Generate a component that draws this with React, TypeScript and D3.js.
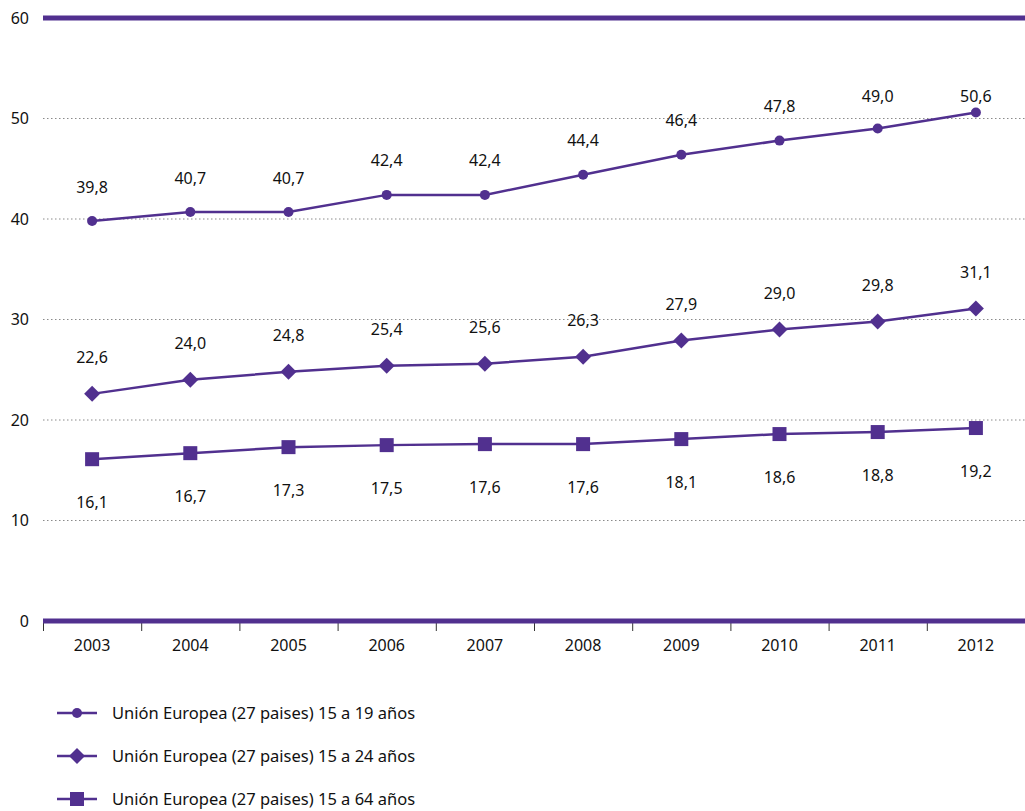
import React from "react";
import * as d3 from "d3";

const years = ["2003", "2004", "2005", "2006", "2007", "2008", "2009", "2010", "2011", "2012"];
const s15to19 = [39.8, 40.7, 40.7, 42.4, 42.4, 44.4, 46.4, 47.8, 49.0, 50.6];
const s15to24 = [22.6, 24.0, 24.8, 25.4, 25.6, 26.3, 27.9, 29.0, 29.8, 31.1];
const s15to64 = [16.1, 16.7, 17.3, 17.5, 17.6, 17.6, 18.1, 18.6, 18.8, 19.2];
const yTicks = [0, 10, 20, 30, 40, 50, 60];
const seriesNames = [
  "Unión Europea (27 paises) 15 a 19 años",
  "Unión Europea (27 paises) 15 a 24 años",
  "Unión Europea (27 paises) 15 a 64 años",
];

const COLOR = "#51308f";
const FONT = "'Noto Sans', 'Open Sans', sans-serif";
const FS = 16;

const W = 1025;
const H = 811;
const M = { left: 43, right: 0, top: 18, bottom: 190 };

function Marker({ kind, x, y }: { kind: string; x: number; y: number }) {
  if (kind === "circle") return <circle cx={x} cy={y} r={5} fill={COLOR} />;
  if (kind === "diamond")
    return <path d={`M${x},${y - 8}L${x + 8},${y}L${x},${y + 8}L${x - 8},${y}Z`} fill={COLOR} />;
  return <rect x={x - 7} y={y - 7} width={14} height={14} fill={COLOR} />;
}

export default function App() {
  const x = d3.scaleBand<string>().domain(years).range([M.left, W - M.right]);
  const y = d3.scaleLinear().domain([0, 60]).range([H - M.bottom, M.top]);
  const cx = (d: string) => (x(d) as number) + x.bandwidth() / 2;
  const line = d3
    .line<number>()
    .x((_, i) => cx(years[i]))
    .y((v) => y(v));
  const fmt = (v: number) => v.toFixed(1).replace(".", ",");

  const series = [
    { vals: s15to19, kind: "circle", label: (v: number) => Math.max(96, y(v) - 34) },
    { vals: s15to24, kind: "diamond", label: (v: number) => y(v) - 36 },
    { vals: s15to64, kind: "square", label: (v: number) => y(v) + 43 },
  ];

  const y0 = y(0);

  return (
    <svg width={W} height={H} style={{ position: "absolute", left: 0, top: 0 }} fontFamily={FONT}>
      <rect width={W} height={H} fill="#fff" />
      {yTicks
        .filter((t) => t > 0 && t < 60)
        .map((t) => (
          <line
            key={t}
            x1={M.left}
            x2={W}
            y1={y(t)}
            y2={y(t)}
            stroke="#8a8a8a"
            strokeWidth={1}
            strokeDasharray="1.5,2.5"
          />
        ))}
      <line x1={M.left} x2={W} y1={y(60)} y2={y(60)} stroke={COLOR} strokeWidth={5} />
      {yTicks.map((t) => (
        <text key={t} x={29} y={y(t)} dy="0.35em" textAnchor="end" fontSize={FS} fill="#111">
          {t}
        </text>
      ))}
      {years.map((yr) => (
        <line
          key={"tk" + yr}
          x1={(x(yr) as number) + 0.5}
          x2={(x(yr) as number) + 0.5}
          y1={y0}
          y2={y0 + 10}
          stroke="#333"
          strokeWidth={1}
        />
      ))}
      <line x1={M.left} x2={W} y1={y0} y2={y0} stroke={COLOR} strokeWidth={5} />
      {years.map((yr) => (
        <text key={yr} x={cx(yr)} y={y0 + 24} dy="0.35em" textAnchor="middle" fontSize={FS} fill="#111">
          {yr}
        </text>
      ))}
      {series.map((s, si) => (
        <g key={si}>
          <path d={line(s.vals) || ""} fill="none" stroke={COLOR} strokeWidth={2.5} />
          {s.vals.map((v, i) => (
            <Marker key={i} kind={s.kind} x={cx(years[i])} y={y(v)} />
          ))}
          {s.vals.map((v, i) => (
            <text
              key={"l" + i}
              x={cx(years[i])}
              y={s.label(v)}
              dy="0.35em"
              textAnchor="middle"
              fontSize={FS}
              fill="#111"
            >
              {fmt(v)}
            </text>
          ))}
        </g>
      ))}
      {seriesNames.map((n, i) => {
        const ly = 713 + i * 43;
        return (
          <g key={n}>
            <line x1={57} x2={97} y1={ly} y2={ly} stroke={COLOR} strokeWidth={2.5} />
            <Marker kind={series[i].kind} x={77} y={ly} />
            <text x={112} y={ly} dy="0.35em" fontSize={16.5} fill="#111">
              {n}
            </text>
          </g>
        );
      })}
    </svg>
  );
}
